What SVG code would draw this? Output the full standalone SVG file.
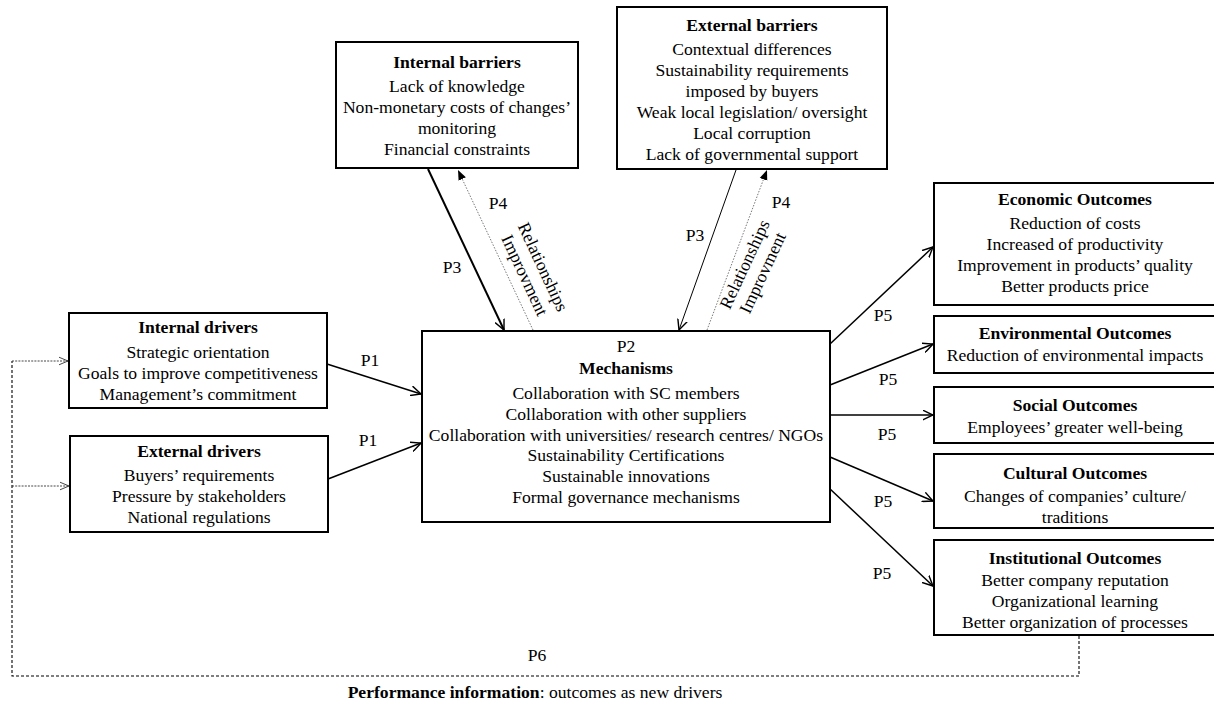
<svg xmlns="http://www.w3.org/2000/svg" width="1214" height="704" viewBox="0 0 1214 704">
<style>
text{font-family:"Liberation Serif","Times New Roman",Times,serif;font-size:17.6px;fill:#000;text-anchor:middle}
.b{font-weight:bold}
.box{fill:#fff;stroke:#000;stroke-width:2}
.arr{fill:none;stroke:#000;stroke-width:1.5}
.dot{fill:none;stroke:#555;stroke-width:0.8;stroke-dasharray:1.5,1.5}
.dash{fill:none;stroke:#000;stroke-width:1.1;stroke-dasharray:3,2}
.dashA{fill:none;stroke:#333;stroke-width:0.9;stroke-dasharray:2,1.2}
</style>
<defs>
<marker id="open" viewBox="0 0 10 10" refX="9.5" refY="5" markerWidth="11" markerHeight="11" markerUnits="userSpaceOnUse" orient="auto"><path d="M0,0.5 L9.5,5 L0,9.5" fill="none" stroke="#000" stroke-width="1.3"/></marker>
<marker id="openThin" viewBox="0 0 10 10" refX="9.5" refY="5" markerWidth="10" markerHeight="10" markerUnits="userSpaceOnUse" orient="auto"><path d="M0,1 L9.5,5 L0,9" fill="none" stroke="#333" stroke-width="0.9"/></marker>
<marker id="fill" viewBox="0 0 10 10" refX="10" refY="5" markerWidth="10" markerHeight="10" markerUnits="userSpaceOnUse" orient="auto"><path d="M0,1 L10,5 L0,9 z" fill="#000"/></marker>
</defs>

<g id="connectors">
<line class="arr" x1="327" y1="364" x2="421" y2="394" marker-end="url(#open)"/>
<line class="arr" x1="328" y1="479" x2="421" y2="443" marker-end="url(#open)"/>
<line class="arr" style="stroke-width:2" x1="428" y1="169" x2="504" y2="330" marker-end="url(#open)"/>
<line class="dot" x1="533" y1="330" x2="458" y2="170" marker-end="url(#fill)"/>
<line class="arr" style="stroke-width:1" x1="736" y1="170" x2="679" y2="330" marker-end="url(#open)"/>
<line class="dot" x1="707" y1="330" x2="767" y2="170" marker-end="url(#fill)"/>
<line class="arr" x1="830" y1="344" x2="933" y2="247" marker-end="url(#open)"/>
<line class="arr" x1="830" y1="385" x2="933" y2="344" marker-end="url(#open)"/>
<line class="arr" x1="830" y1="415" x2="933" y2="415" marker-end="url(#open)"/>
<line class="arr" x1="830" y1="457" x2="933" y2="501" marker-end="url(#open)"/>
<line class="arr" x1="829" y1="488" x2="933" y2="586" marker-end="url(#open)"/>
<path class="dash" d="M1079,636 V676 H12 V361"/>
<path class="dashA" d="M12,361 H68" marker-end="url(#openThin)"/>
<path class="dashA" d="M12,486 H69" marker-end="url(#openThin)"/>
<text x="370" y="366">P1</text>
<text x="368" y="446">P1</text>
<text x="452" y="273">P3</text>
<text x="498" y="209">P4</text>
<text x="695" y="241">P3</text>
<text x="781" y="208">P4</text>
<text x="883" y="321">P5</text>
<text x="888" y="385">P5</text>
<text x="887" y="440">P5</text>
<text x="883" y="507">P5</text>
<text x="882" y="579">P5</text>
<text x="537" y="661">P6</text>
<g transform="translate(534,271) rotate(65)"><text x="0" y="-4">Relationships</text><text x="0" y="16">Improvment</text></g>
<g transform="translate(753.5,268.5) rotate(-65)"><text x="0" y="-4">Relationships</text><text x="0" y="16">Improvment</text></g>
</g>

<g id="internal-barriers">
<rect class="box" x="336" y="42" width="242" height="126"/>
<text class="b" x="457" y="68">Internal barriers</text>
<text x="457" y="92">Lack of knowledge</text>
<text x="457" y="113">Non-monetary costs of changes’</text>
<text x="457" y="134">monitoring</text>
<text x="457" y="155">Financial constraints</text>
</g>

<g id="external-barriers">
<rect class="box" x="617" y="7" width="270" height="162"/>
<text class="b" x="752" y="31">External barriers</text>
<text x="752" y="55">Contextual differences</text>
<text x="752" y="76">Sustainability requirements</text>
<text x="752" y="97">imposed by buyers</text>
<text x="752" y="118">Weak local legislation/ oversight</text>
<text x="752" y="139">Local corruption</text>
<text x="752" y="160">Lack of governmental support</text>
</g>

<g id="internal-drivers">
<rect class="box" x="69" y="313" width="258" height="95"/>
<text class="b" x="198" y="333">Internal drivers</text>
<text x="198" y="358">Strategic orientation</text>
<text x="198" y="379">Goals to improve competitiveness</text>
<text x="198" y="400">Management’s commitment</text>
</g>

<g id="external-drivers">
<rect class="box" x="70" y="436" width="258" height="96"/>
<text class="b" x="199" y="457">External drivers</text>
<text x="199" y="481">Buyers’ requirements</text>
<text x="199" y="502">Pressure by stakeholders</text>
<text x="199" y="523">National regulations</text>
</g>

<g id="mechanisms">
<rect class="box" x="422" y="331" width="408" height="191"/>
<text x="626" y="352">P2</text>
<text class="b" x="626" y="374">Mechanisms</text>
<text x="626" y="399">Collaboration with SC members</text>
<text x="626" y="420">Collaboration with other suppliers</text>
<text x="626" y="441">Collaboration with universities/ research centres/ NGOs</text>
<text x="626" y="461">Sustainability Certifications</text>
<text x="626" y="482">Sustainable innovations</text>
<text x="626" y="503">Formal governance mechanisms</text>
</g>

<g id="economic-outcomes">
<rect class="box" x="934" y="183" width="284" height="122"/>
<text class="b" x="1075" y="205">Economic Outcomes</text>
<text x="1075" y="229">Reduction of costs</text>
<text x="1075" y="250">Increased of productivity</text>
<text x="1075" y="271">Improvement in products’ quality</text>
<text x="1075" y="292">Better products price</text>
</g>

<g id="environmental-outcomes">
<rect class="box" x="934" y="316" width="284" height="57"/>
<text class="b" x="1075" y="339">Environmental Outcomes</text>
<text x="1075" y="361">Reduction of environmental impacts</text>
</g>

<g id="social-outcomes">
<rect class="box" x="934" y="387" width="284" height="56"/>
<text class="b" x="1075" y="411">Social Outcomes</text>
<text x="1075" y="433">Employees’ greater well-being</text>
</g>

<g id="cultural-outcomes">
<rect class="box" x="934" y="454" width="284" height="74"/>
<text class="b" x="1075" y="479">Cultural Outcomes</text>
<text x="1075" y="502">Changes of companies’ culture/</text>
<text x="1075" y="523">traditions</text>
</g>

<g id="institutional-outcomes">
<rect class="box" x="934" y="540" width="284" height="95"/>
<text class="b" x="1075" y="564">Institutional Outcomes</text>
<text x="1075" y="586">Better company reputation</text>
<text x="1075" y="607">Organizational learning</text>
<text x="1075" y="628">Better organization of processes</text>
</g>

<g id="caption">
<text x="535" y="698"><tspan class="b">Performance information</tspan>: outcomes as new drivers</text>
</g>
</svg>
